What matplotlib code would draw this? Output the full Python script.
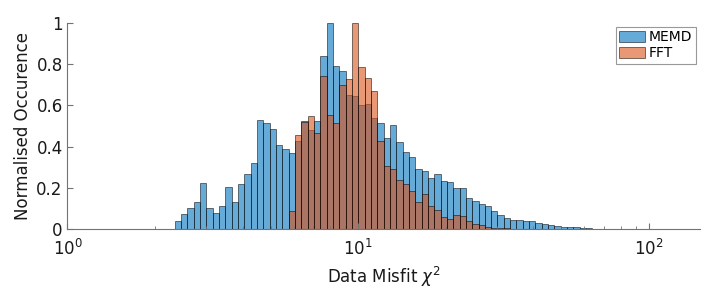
import numpy as np
import matplotlib
matplotlib.use('Agg')
import matplotlib.pyplot as plt

# histogram values (normalised to max = 1)
memd = [0.040, 0.073, 0.105, 0.132, 0.226, 0.105, 0.077, 0.113, 0.205, 0.132,
        0.218, 0.266, 0.320, 0.529, 0.513, 0.484, 0.408, 0.387, 0.368,
        0.428, 0.525, 0.481, 0.525, 0.838, 1.000, 0.789, 0.767, 0.649, 0.644,
        0.600, 0.605, 0.541, 0.513, 0.442, 0.507, 0.421, 0.376, 0.349, 0.291,
        0.281, 0.247, 0.266,
        0.232, 0.228, 0.199, 0.199, 0.152, 0.136, 0.121, 0.115, 0.087, 0.071,
        0.053, 0.044, 0.044, 0.039, 0.039, 0.029, 0.024, 0.019, 0.016, 0.013,
        0.011, 0.010, 0.008, 0.005, 0.003, 0.002, 0.002, 0.001, 0.001]
fft = [0.0] * 18 + [
        0.089,
        0.455, 0.520, 0.550, 0.465, 0.741, 0.554, 0.513, 0.700, 0.725, 1.000,
        0.785, 0.731, 0.670, 0.426, 0.307, 0.294, 0.239, 0.221, 0.186, 0.132,
        0.169, 0.115, 0.092,
        0.060, 0.048, 0.069, 0.063, 0.042, 0.026, 0.019, 0.010, 0.008, 0.006,
        0.005, 0.003, 0.002, 0.001, 0.001, 0.001]
fft = fft + [0.0] * (len(memd) - len(fft))

log_start = 0.369
log_step = 0.02177
edges = 10 ** (log_start + log_step * np.arange(len(memd) + 1))

blue = (0, 0.447, 0.741)
orange = (0.85, 0.325, 0.098)

fig = plt.figure(figsize=(7.18, 2.94), dpi=100)
ax = fig.add_axes([0.094, 0.22, 0.881, 0.703])

ax.bar(edges[:-1], memd, width=np.diff(edges), align='edge', color=blue,
       alpha=0.6, edgecolor='k', linewidth=0.6, label='MEMD')
ax.bar(edges[:-1], fft, width=np.diff(edges), align='edge', color=orange,
       alpha=0.6, edgecolor='k', linewidth=0.6, label='FFT')

ax.set_xscale('log')
ax.set_xlim(1, 150)
ax.set_ylim(0, 1)
ax.set_yticks([0, 0.2, 0.4, 0.6, 0.8, 1])
ax.set_yticklabels(['0', '0.2', '0.4', '0.6', '0.8', '1'])

for s in ['top', 'right']:
    ax.spines[s].set_visible(False)
for s in ['left', 'bottom']:
    ax.spines[s].set_color('0.45')
    ax.spines[s].set_linewidth(0.8)
ax.tick_params(which='both', direction='in', colors='0.45', labelcolor='0.1',
               labelsize=12)
ax.tick_params(which='major', length=4)
ax.tick_params(which='minor', length=2.5)
ax.tick_params(axis='x', which='both', pad=7)

ax.set_xlabel('Data Misfit $\\chi^2$', fontsize=12, color='0.1', labelpad=4)
ax.set_ylabel('Normalised Occurence', fontsize=12, color='0.1', labelpad=3)

leg = ax.legend(loc='upper right', bbox_to_anchor=(1.0, 1.0), fontsize=10,
                fancybox=False, framealpha=1, edgecolor='0.6',
                handlelength=1.9, handleheight=0.85, borderpad=0.25,
                labelspacing=0.15, handletextpad=0.25, borderaxespad=0.3)
leg.get_frame().set_linewidth(0.8)

fig.savefig('out.png', dpi=100)
